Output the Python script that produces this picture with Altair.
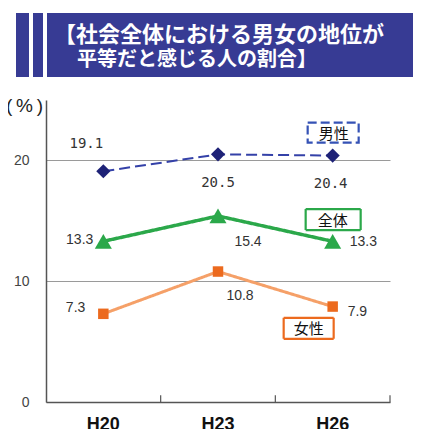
import altair as alt
import pandas as pd

# ---- data ----
years = ["H20", "H23", "H26"]
male = [19.1, 20.5, 20.4]
total = [13.3, 15.4, 13.3]
female = [7.3, 10.8, 7.9]
series_names = ["男性", "全体", "女性"]
y_ticks = [0, 10, 20]
title_lines = ["【社会全体における男女の地位が", "平等だと感じる人の割合】"]

# annotation (legend box) anchors in data terms
box_year = ["H26", "H26", "H26"]
box_value = [22.3, 15.1, 6.1]

# ---- styles ----
colors_line = {"男性": "#3441A8", "全体": "#2BA84A", "女性": "#F5A068"}
colors_point = {"男性": "#1E2277", "全体": "#2BA84A", "女性": "#EC6A1E"}
shapes = {"男性": "diamond", "全体": "triangle-up", "女性": "square"}
point_sizes = {"男性": 200, "全体": 290, "女性": 110}
line_widths = {"男性": 2, "全体": 3.5, "女性": 3}
# per-point label placement: (align, dx, dy)
label_style = {
    "男性": [("center", -17, -27), ("center", 0, 29), ("center", -2, 28)],
    "全体": [("right", -10, -1), ("center", 30, 26), ("left", 17, 1)],
    "女性": [("right", -18, -6), ("center", 22, 24), ("left", 15, 5)],
}
label_font = {"男性": "DejaVu Sans Mono", "全体": "Liberation Sans", "女性": "Liberation Sans"}
box_paths = {
    "男性": "M-25,-10H26V10H-25Z",
    "全体": "M-27,-10.5H28V10.5H-27Z",
    "女性": "M-49,-10.5H1V10.5H-49Z",
}
box_text_dx = {"男性": 1, "全体": 0, "女性": -24}
box_dash = {"男性": [9, 4], "全体": [1, 0], "女性": [1, 0]}
CJK = "Noto Sans CJK JP"
BANNER = "#373B94"

values = {"男性": male, "全体": total, "女性": female}
rows = []
for s in series_names:
    for i, (yr, v) in enumerate(zip(years, values[s])):
        rows.append({"series": s, "year": yr, "value": v, "idx": i, "label": f"{v:.1f}"})
df = pd.DataFrame(rows)

x_scale = alt.Scale(type="band", domain=years, paddingInner=0, paddingOuter=0)
y_scale = alt.Scale(domain=[0, 25], nice=False, zero=True)

x_axis = alt.Axis(title=None, labelAngle=0, ticks=False, grid=False,
                  domainColor="#555555", domainWidth=1.5,
                  labelFont="Liberation Sans", labelFontSize=18, labelFontWeight="bold",
                  labelColor="#111111", labelPadding=13)
y_axis = alt.Axis(values=y_ticks, grid=True, gridColor="#9a9a9a", gridWidth=1,
                  ticks=False, domainColor="#555555", domainWidth=1.5,
                  labelFont="Liberation Sans", labelFontSize=14, labelColor="#444444",
                  labelPadding=17,
                  title="(\u2009%\u2009)", titleAngle=0, titleX=-22, titleY=5,
                  titleAlign="center", titleBaseline="middle", titleFont="Liberation Sans",
                  titleFontSize=19, titleFontWeight="normal", titleColor="#222222")

X = alt.X("year:N", scale=x_scale, axis=x_axis, bandPosition=0.5, sort=years)
Y = alt.Y("value:Q", scale=y_scale, axis=y_axis)

layers = []

# x-axis ticks between categories
tick_df = pd.DataFrame({"year": years})
layers.append(
    alt.Chart(tick_df).mark_rule(color="#555555", strokeWidth=1.2).encode(
        x=alt.X("year:N", scale=x_scale, axis=x_axis, bandPosition=1, sort=years),
        y=alt.datum(0), y2=alt.datum(0.55))
)

for s in series_names:
    base = alt.Chart(df).transform_filter(alt.datum.series == s)
    layers.append(base.mark_line(color=colors_line[s], strokeWidth=line_widths[s],
                                 strokeDash=[11, 5] if s == "男性" else [1, 0]).encode(x=X, y=Y))
for s in series_names:
    base = alt.Chart(df).transform_filter(alt.datum.series == s)
    layers.append(base.mark_point(shape=shapes[s], filled=True, opacity=1,
                                  color=colors_point[s], size=point_sizes[s]).encode(x=X, y=Y))
    for i in range(len(years)):
        align, dx, dy = label_style[s][i]
        layers.append(
            base.transform_filter(alt.datum.idx == i).mark_text(
                align=align, baseline="middle", dx=dx, dy=dy,
                font=label_font[s], fontSize=14, color="#333333").encode(x=X, y=Y, text="label:N"))

# legend-like boxes
box_df = pd.DataFrame({"series": series_names, "year": box_year, "value": box_value})
for s in series_names:
    b = alt.Chart(box_df).transform_filter(alt.datum.series == s)
    layers.append(b.mark_point(shape=box_paths[s], size=4, filled=True, fill="white",
                               stroke=colors_point[s] if s != "男性" else "#3552B5",
                               strokeWidth=2.2, opacity=1, strokeDash=box_dash[s]).encode(x=X, y=Y))
    layers.append(b.mark_text(font=CJK, fontSize=15, color="#111111", baseline="middle",
                              dx=box_text_dx[s], dy=1).encode(x=X, y=Y, text="series:N"))

# title banner
one = pd.DataFrame({"k": [0]})
for x0, x1 in [(-30, -17), (-13, -3), (1, 373)]:
    layers.append(alt.Chart(one).mark_rect(color=BANNER).encode(
        x=alt.value(x0), x2=alt.value(x1), y=alt.value(-87), y2=alt.value(-23)))
for line, xx, yy, fs in zip(title_lines, [8, 31], [-65, -40.5], [22, 20]):
    layers.append(alt.Chart(one).mark_text(align="left", baseline="middle", font=CJK,
                                           fontSize=fs, fontWeight="bold", color="white").encode(
        x=alt.value(xx), y=alt.value(yy), text=alt.value(line)))

chart = alt.layer(*layers).properties(
    width=344, height=302,
    autosize=alt.AutoSizeParams(type="none"),
    padding={"left": 38, "top": 92, "right": 23, "bottom": 27},
).configure_view(stroke=None)

chart.save("out.html", embed_options={"renderer": "svg", "actions": False})
